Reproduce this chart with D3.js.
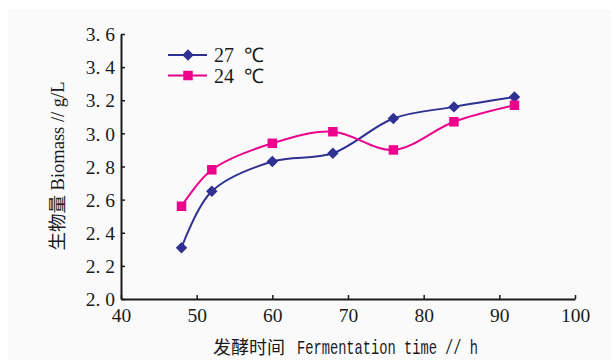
<!DOCTYPE html>
<html>
<head>
<meta charset="utf-8">
<script src="https://cdn.jsdelivr.net/npm/d3@7"></script>
<style>
  html, body { margin: 0; padding: 0; background: #fff; }
  svg { display: block; }
</style>
</head>
<body>
<svg id="chart" width="611" height="360"></svg>
<script>
// data
let hours = [48, 52, 60, 68, 76, 84, 92];
let biomass27 = [2.31, 2.65, 2.83, 2.88, 3.09, 3.16, 3.22];
let biomass24 = [2.56, 2.78, 2.94, 3.01, 2.90, 3.07, 3.17];
let seriesNames = ["27 ℃", "24 ℃"];
let xTicks = [40, 50, 60, 70, 80, 90, 100];
let yTicks = [2.0, 2.2, 2.4, 2.6, 2.8, 3.0, 3.2, 3.4, 3.6];

let colorBlue = "#2e3192",
    colorPink = "#ec008c";
let serif = "'Liberation Serif', 'Times New Roman', serif";

let svg = d3.select("#chart");

/* light grey page behind the plot, like the scan */
svg.append("rect")
    .attr("x", 8).attr("y", 9)
    .attr("width", 603).attr("height", 351)
    .attr("fill", "#fafafa");

let x = d3.scaleLinear().domain([40, 100]).range([121, 575]);
let y = d3.scaleLinear().domain([2.0, 3.6]).range([299, 34]);

let fmt = d3.format(".1f");

let xAxis = svg.append("g")
    .attr("transform", "translate(0," + y(2.0) + ")")
    .call(d3.axisBottom(x).tickValues(xTicks).tickSizeInner(-4).tickSizeOuter(0).tickPadding(9));

let yAxis = svg.append("g")
    .attr("transform", "translate(" + x(40) + ",0)")
    .call(d3.axisLeft(y).tickValues(yTicks).tickSizeInner(-4).tickSizeOuter(0).tickPadding(6)
        .tickFormat(function(d) { return fmt(d).replace(".", ". "); }));

[xAxis, yAxis].forEach(function(a) {
    a.attr("font-family", null).attr("font-size", null);
    a.select(".domain").attr("stroke", "#1a1a1a").attr("stroke-width", 2);
    a.selectAll(".tick line").attr("stroke", "#1a1a1a").attr("stroke-width", 1.5);
    a.selectAll(".tick text")
        .style("font-family", serif)
        .style("font-size", "19.5px")
        .attr("fill", "#1a1a1a");
});
yAxis.selectAll(".tick text").attr("dy", "0.34em").attr("xml:space", "preserve");
xAxis.selectAll(".tick text").attr("dy", "0.72em");

let diamond = d3.symbol().type(d3.symbolSquare).size(66);
let square = d3.symbol().type(d3.symbolSquare).size(90);

let series = [
    { name: seriesNames[0], values: biomass27, color: colorBlue, sym: diamond, rot: 45 },
    { name: seriesNames[1], values: biomass24, color: colorPink, sym: square, rot: 0 }
];

let line = d3.line()
    .x(function(d) { return x(d[0]); })
    .y(function(d) { return y(d[1]); })
    .curve(d3.curveCatmullRom.alpha(0.5));

series.forEach(function(s) {
    let pts = hours.map(function(h, i) { return [h, s.values[i]]; });
    svg.append("path")
        .attr("d", line(pts))
        .attr("fill", "none")
        .attr("stroke", s.color)
        .attr("stroke-width", 2);
    svg.selectAll(null)
        .data(pts)
        .enter()
        .append("path")
        .attr("d", s.sym)
        .attr("transform", function(d) { return "translate(" + x(d[0]) + "," + y(d[1]) + ") rotate(" + s.rot + ")"; })
        .attr("fill", s.color);
});

/* legend */
let legend = svg.append("g").attr("transform", "translate(168,55)");
series.forEach(function(s, i) {
    let row = legend.append("g").attr("transform", "translate(0," + (i * 20.5) + ")");
    row.append("line")
        .attr("x1", 0).attr("x2", 39)
        .attr("stroke", s.color).attr("stroke-width", 2);
    row.append("path")
        .attr("d", s.sym)
        .attr("transform", "translate(20,0) rotate(" + s.rot + ")")
        .attr("fill", s.color);
    row.append("text")
        .attr("x", 46).attr("dy", "0.36em")
        .attr("xml:space", "preserve")
        .style("font-family", serif)
        .style("font-size", "20px")
        .attr("fill", "#1a1a1a")
        .text(s.name.replace(" ", "  "));
});

/* axis titles: Chinese part plus a narrow mono latin part */
let xTitle = svg.append("g").attr("fill", "#1a1a1a");
xTitle.append("text")
    .attr("x", 213).attr("y", 354)
    .style("font-family", "'Noto Sans CJK SC', sans-serif")
    .style("font-size", "18px")
    .text("发酵时间");
xTitle.append("text")
    .attr("x", 297).attr("y", 354)
    .attr("textLength", 181)
    .attr("lengthAdjust", "spacingAndGlyphs")
    .style("font-family", "'Liberation Mono', monospace")
    .style("font-size", "21px")
    .text("Fermentation time // h");

svg.append("text")
    .attr("transform", "translate(64,166) rotate(-90)")
    .attr("text-anchor", "middle")
    .style("font-family", serif + ", 'Noto Sans CJK SC'")
    .style("font-size", "18.5px")
    .attr("fill", "#1a1a1a")
    .text("生物量 Biomass // g/L");
</script>
</body>
</html>
